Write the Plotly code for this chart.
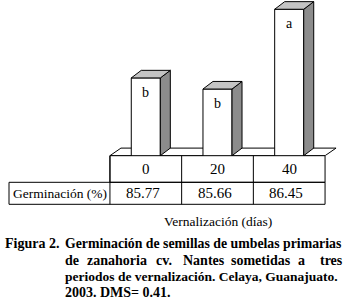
import plotly.graph_objects as go

# ---------------- data ----------------
categories = ["0", "20", "40"]            # vernalization days
germinacion = [85.77, 85.66, 86.45]        # germination (%)
letters = ["b", "b", "a"]                  # mean separation letters
row_label = "Germinación (%)"
x_title = "Vernalización (días)"
caption_head = "Figura 2."
caption_line1 = "Germinación de semillas de umbelas primarias"
caption_line2_words = ["de", "zanahoria", "cv.", "Nantes", "sometidas", "a", "tres"]
caption_line3 = "periodos de vernalización. Celaya, Guanajuato."
caption_line4 = "2003. DMS= 0.41."

# ---------------- layout constants (pixels) ----------------
W, H = 343, 305
X0_PX = 145.8        # pixel centre of first category
CAT_PX = 71.7        # pixel width of one category
BASE = 85.0          # value axis minimum
Y_BASE_PX = 155.7    # pixel row of the value-axis minimum
PX_PER_UNIT = 101.0  # pixels per % unit
BAR_W = 0.405
DEPTH_X_PX, DEPTH_Y_PX = 10.0, 7.6
FLOOR_DX_PX = 11.0

SERIF = "Liberation Serif"


def px2x(p):
    return (p - X0_PX) / CAT_PX


def py(p):
    return (H - p) / H


xs = list(range(len(categories)))
dx = DEPTH_X_PX / CAT_PX
fdx = FLOOR_DX_PX / CAT_PX
dy = DEPTH_Y_PX / PX_PER_UNIT

fig = go.Figure()
fig.add_trace(go.Bar(
    x=xs, y=germinacion, width=BAR_W,
    marker=dict(color="white", line=dict(color="black", width=1)),
    hovertemplate="%{y}<extra></extra>",
))

shapes = []
# floor
left, right = xs[0] - 0.5, xs[-1] + 0.5
shapes.append(dict(
    type="path", xref="x", yref="y", layer="below",
    path=f"M {left} {BASE} L {left + fdx} {BASE + dy} L {right + fdx} {BASE + dy} L {right} {BASE} Z",
    fillcolor="white", line=dict(color="black", width=1),
))
# 3D sides and tops of bars
for x, v in zip(xs, germinacion):
    x0, x1 = x - BAR_W / 2, x + BAR_W / 2
    shapes.append(dict(
        type="path", xref="x", yref="y", layer="above",
        path=f"M {x1} {BASE} L {x1 + dx} {BASE + dy} L {x1 + dx} {v + dy} L {x1} {v} Z",
        fillcolor="#8c8c8c", line=dict(color="black", width=1),
    ))
    shapes.append(dict(
        type="path", xref="x", yref="y", layer="above",
        path=f"M {x0} {v} L {x0 + dx} {v + dy} L {x1 + dx} {v + dy} L {x1} {v} Z",
        fillcolor="#c4c4c4", line=dict(color="black", width=1),
    ))

# table
ROW1_TOP, ROW1_BOT, ROW2_BOT = 155.7, 182.3, 204.3
TABLE_LEFT_PX = 9.0
line = dict(color="black", width=1)
shapes.append(dict(type="rect", xref="x", yref="paper", x0=left, x1=right,
                   y0=py(ROW1_BOT), y1=py(ROW1_TOP), line=line, layer="above"))
shapes.append(dict(type="rect", xref="x", yref="paper", x0=px2x(TABLE_LEFT_PX), x1=right,
                   y0=py(ROW2_BOT), y1=py(ROW1_BOT), line=line, layer="above"))
for b in [left] + [x + 0.5 for x in xs[:-1]]:
    shapes.append(dict(type="line", xref="x", yref="paper", x0=b, x1=b,
                       y0=py(ROW2_BOT), y1=py(ROW1_TOP), line=line, layer="above"))


def ann(x, y, text, font, xref="paper", yref="paper", xanchor="center"):
    return dict(x=x, y=y, xref=xref, yref=yref, text=text, showarrow=False,
                xanchor=xanchor, yanchor="middle", font=font)


reg = dict(family=SERIF, color="black")
annotations = []
for x, c, v, l in zip(xs, categories, germinacion, letters):
    annotations.append(ann(x, py((ROW1_TOP + ROW1_BOT) / 2), c, dict(reg, size=15), xref="x"))
    annotations.append(ann(x - 0.04, py((ROW1_BOT + ROW2_BOT) / 2), f"{v:.2f}", dict(reg, size=15), xref="x"))
    annotations.append(ann(x, v - 14.5 / PX_PER_UNIT, l, dict(reg, size=14), xref="x", yref="y"))
annotations.append(ann(px2x((TABLE_LEFT_PX + 110) / 2), py((ROW1_BOT + ROW2_BOT) / 2), row_label,
                       dict(reg, size=13.5), xref="x"))
annotations.append(ann(px2x(218), py(221), x_title, dict(reg, size=13.5), xref="x"))

# caption
cap_font = dict(family=SERIF, size=14, color="black", weight="bold")
CAP_LEFT = 63.3 / W
line_y = [243.3, 260.0, 276.4, 292.8]
annotations.append(ann(3.3 / W, py(line_y[0]), caption_head, cap_font, xanchor="left"))
annotations.append(ann(CAP_LEFT, py(line_y[0]), caption_line1, dict(cap_font, size=13.8), xanchor="left"))
word_px = [63.3, 85, 154, 181, 229, 296, 318]
for wd, p in zip(caption_line2_words, word_px):
    annotations.append(ann(p / W, py(line_y[1]), wd, cap_font, xanchor="left"))
annotations.append(ann(CAP_LEFT, py(line_y[2]), caption_line3, dict(cap_font, size=13.5), xanchor="left"))
annotations.append(ann(CAP_LEFT, py(line_y[3]), caption_line4, cap_font, xanchor="left"))

fig.update_layout(
    width=W, height=H,
    margin=dict(l=0, r=0, t=0, b=0),
    paper_bgcolor="white", plot_bgcolor="white",
    showlegend=False,
    font=dict(family=SERIF),
    xaxis=dict(range=[px2x(0), px2x(W)], visible=False, fixedrange=True),
    yaxis=dict(range=[BASE, BASE + Y_BASE_PX / PX_PER_UNIT], domain=[py(Y_BASE_PX), 1],
               visible=False, fixedrange=True),
    shapes=shapes,
    annotations=annotations,
)

fig.write_html("out.html", post_script="document.body.style.margin='0';",
               config={"displayModeBar": False})
